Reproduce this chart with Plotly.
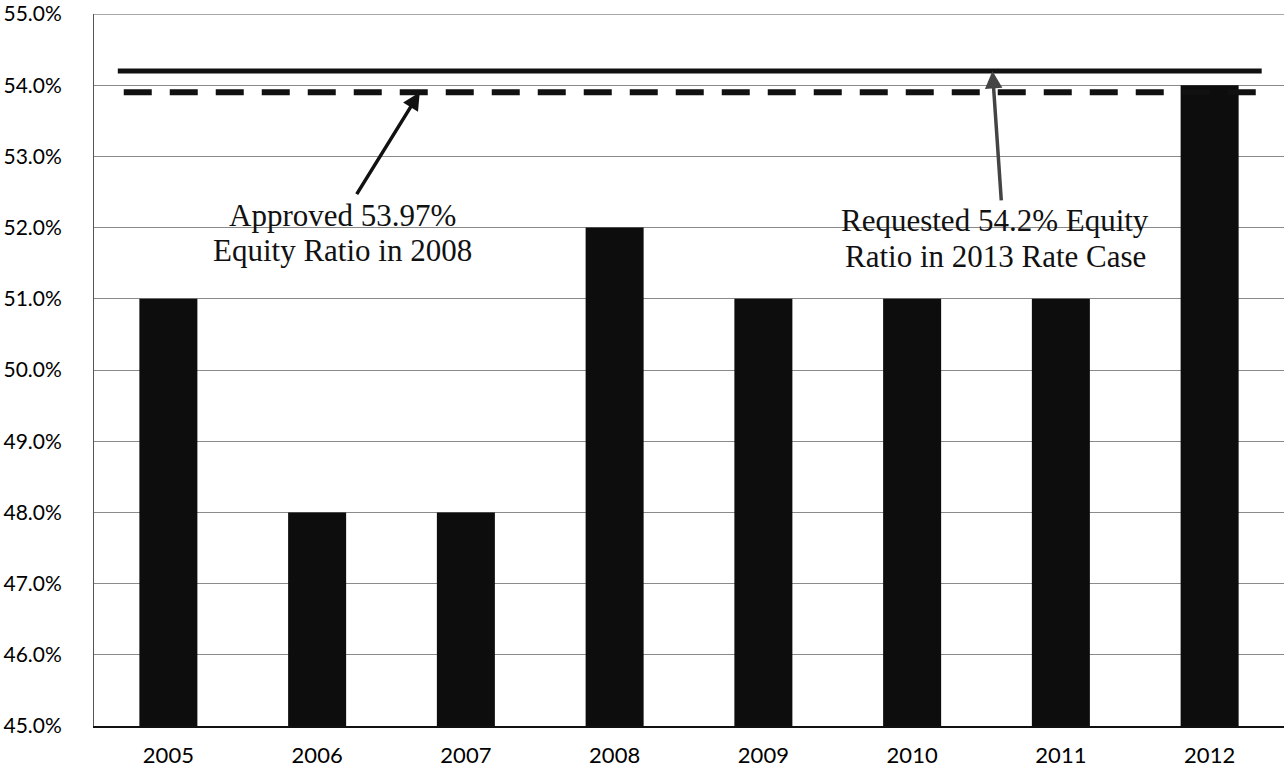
import plotly.graph_objects as go

years = ["2005", "2006", "2007", "2008", "2009", "2010", "2011", "2012"]
equity_ratio = [51.0, 48.0, 48.0, 52.0, 51.0, 51.0, 51.0, 54.0]
requested_ratio = 54.2
approved_ratio = 53.9
y_ticks = [45, 46, 47, 48, 49, 50, 51, 52, 53, 54, 55]
y_tick_labels = [f"{v:.1f}%" for v in y_ticks]
approved_lines = ["Approved 53.97%", "Equity Ratio in 2008"]
requested_lines = ["Requested 54.2% Equity", "Ratio in 2013 Rate Case"]

xpos = list(range(len(years)))

fig = go.Figure()
fig.add_trace(go.Bar(x=xpos, y=equity_ratio, width=0.39,
                     marker=dict(color="#0d0d0d", line=dict(width=0)),
                     base=0))
fig.add_trace(go.Scatter(x=[-0.34, 7.35], y=[requested_ratio] * 2, mode="lines",
                         line=dict(color="#111", width=5)))
fig.add_trace(go.Scatter(x=[-0.30, 7.32], y=[approved_ratio] * 2, mode="lines",
                         line=dict(color="#111", width=6, dash="28px,18px")))

serif = "Liberation Serif, Times New Roman, serif"
fig.add_annotation(x=1.69, y=approved_ratio, ax=1.26, ay=52.45, xref="x", yref="y",
                   axref="x", ayref="y", showarrow=True, arrowhead=2, arrowsize=1,
                   arrowwidth=3.5, arrowcolor="#111", text="")
fig.add_annotation(x=5.54, y=requested_ratio, ax=5.60, ay=52.36, xref="x", yref="y",
                   axref="x", ayref="y", showarrow=True, arrowhead=2, arrowsize=1,
                   arrowwidth=3.5, arrowcolor="#444", text="")
for txt, yy in zip(approved_lines, [52.17, 51.68]):
    fig.add_annotation(x=1.17, y=yy, xref="x", yref="y", showarrow=False, text=txt,
                       font=dict(family=serif, size=31, color="#111"))
for txt, yy in zip(requested_lines, [52.10, 51.59]):
    fig.add_annotation(x=5.56, y=yy, xref="x", yref="y", showarrow=False, text=txt,
                       font=dict(family=serif, size=31, color="#111"))

fig.add_shape(type="line", xref="paper", yref="y", x0=0, x1=1, y0=55, y1=55,
              line=dict(color="#555", width=1))

fig.update_layout(
    width=1285, height=778,
    margin=dict(l=94, r=1, t=14, b=52),
    paper_bgcolor="white", plot_bgcolor="white",
    showlegend=False,
    font=dict(family="Lato, sans-serif", size=21, color="#000"),
    xaxis=dict(range=[-0.5, 7.5], tickvals=xpos, ticktext=years, showgrid=False,
               showline=True, linecolor="#111", linewidth=2, ticks="",
               tickfont=dict(size=22, color="#000"),
               ticklabelstandoff=9, zeroline=False),
    yaxis=dict(range=[45, 55], tickvals=y_ticks, ticktext=y_tick_labels,
               showgrid=True, gridcolor="#8a8a8a", gridwidth=1,
               showline=True, linecolor="#555", linewidth=1, ticks="",
               tickfont=dict(size=21, color="#000"),
               ticklabelstandoff=27, zeroline=False),
)

fig.write_html("out.html")
